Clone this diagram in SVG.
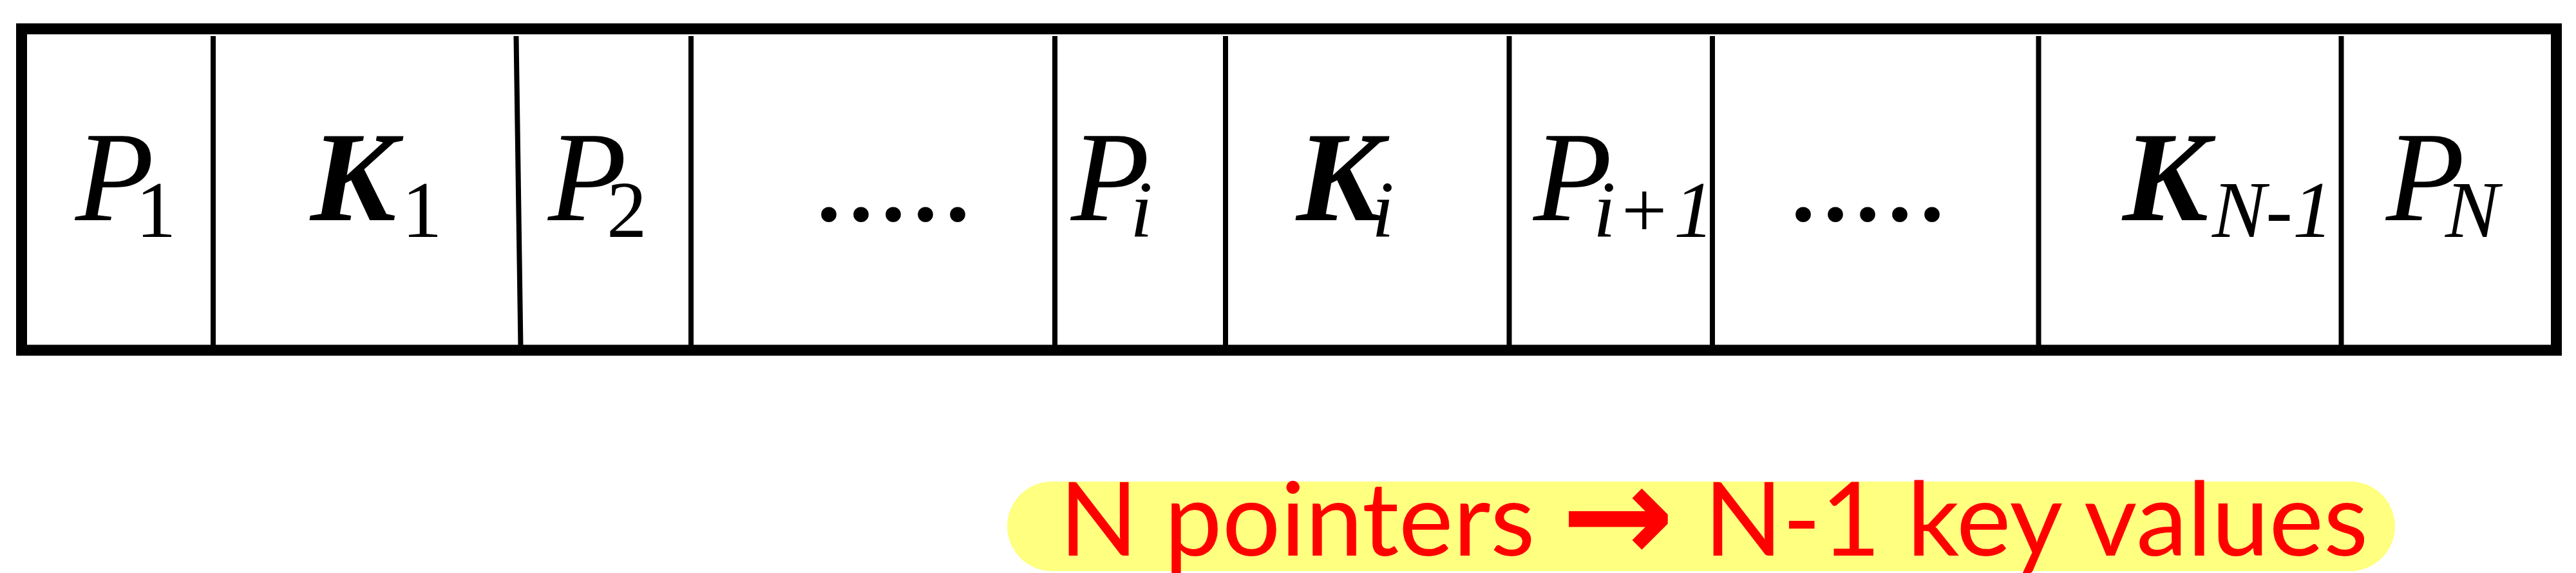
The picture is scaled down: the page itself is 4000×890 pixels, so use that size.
<svg xmlns="http://www.w3.org/2000/svg" width="4000" height="890" viewBox="0 0 4000 890">
  <style>
    .lbl { font-family: "Liberation Serif", "Times New Roman", serif; font-size: 200px; fill: #000; }
    .p { font-style: italic; }
    .k { font-style: italic; font-weight: bold; }
    .sub { font-size: 125px; font-weight: normal; }
    .up { font-style: normal; }
    .it { font-style: italic; }
    .div { stroke: #000; stroke-width: 8; fill: none; }
    .note { font-family: Lato, "Liberation Sans", sans-serif; font-size: 160px; fill: #FF0000; }
    .arrow { font-family: "DejaVu Sans", sans-serif; font-weight: bold; font-size: 210px; }
  </style>
  <rect id="frame" x="33.5" y="44.8" width="3936" height="499.2" fill="#FFFFFF" stroke="#000" stroke-width="17"/>
  <g id="connectors">
    <line class="div" x1="331" y1="56" x2="331" y2="540"/>
    <line class="div" x1="801.5" y1="56" x2="808.5" y2="540"/>
    <line class="div" x1="1073" y1="56" x2="1073" y2="540"/>
    <line class="div" x1="1638" y1="56" x2="1638" y2="540"/>
    <line class="div" x1="1903" y1="56" x2="1903" y2="540"/>
    <line class="div" x1="2343.5" y1="56" x2="2343.5" y2="540"/>
    <line class="div" x1="2659" y1="56" x2="2659" y2="540"/>
    <line class="div" x1="3165.5" y1="56" x2="3165.5" y2="540"/>
    <line class="div" x1="3635.5" y1="56" x2="3635.5" y2="540"/>
  </g>
  <g id="cell-p1"><text class="lbl p" x="117" y="342">P<tspan class="sub up" x="211" y="368">1</tspan></text></g>
  <g id="cell-k1"><text class="lbl k" x="482" y="342">K<tspan class="sub up" x="624" y="368">1</tspan></text></g>
  <g id="cell-p2"><text class="lbl p" x="851" y="342">P<tspan class="sub up" x="942" y="368">2</tspan></text></g>
  <g id="cell-dots1"><text class="lbl" x="1262" y="342">.....</text></g>
  <g id="cell-pi"><text class="lbl p" x="1663" y="342">P<tspan class="sub it" x="1755" y="368">i</tspan></text></g>
  <g id="cell-ki"><text class="lbl k" x="2013" y="342">K<tspan class="sub it" x="2130" y="368">i</tspan></text></g>
  <g id="cell-pi1"><text class="lbl p" x="2381" y="342">P<tspan class="sub it" x="2474" y="368">i</tspan><tspan class="sub up" x="2518" y="368">+</tspan><tspan class="sub it" x="2599" y="368">1</tspan></text></g>
  <g id="cell-dots2"><text class="lbl" x="2775" y="342">.....</text></g>
  <g id="cell-kn1"><text class="lbl k" x="3296" y="342">K<tspan class="sub it" x="3435" y="368">N-1</tspan></text></g>
  <g id="cell-pn"><text class="lbl p" x="3705" y="342">P<tspan class="sub it" x="3797" y="368">N</tspan></text></g>
  <g id="note">
    <rect x="1564" y="748" width="2155" height="139" rx="69.5" ry="69.5" fill="#FFFF80"/>
    <text class="note" x="1645" y="863">N pointers <tspan class="arrow" x="2424" y="872">→</tspan><tspan x="2605" y="863"> N-1 key values</tspan></text>
  </g>
</svg>
